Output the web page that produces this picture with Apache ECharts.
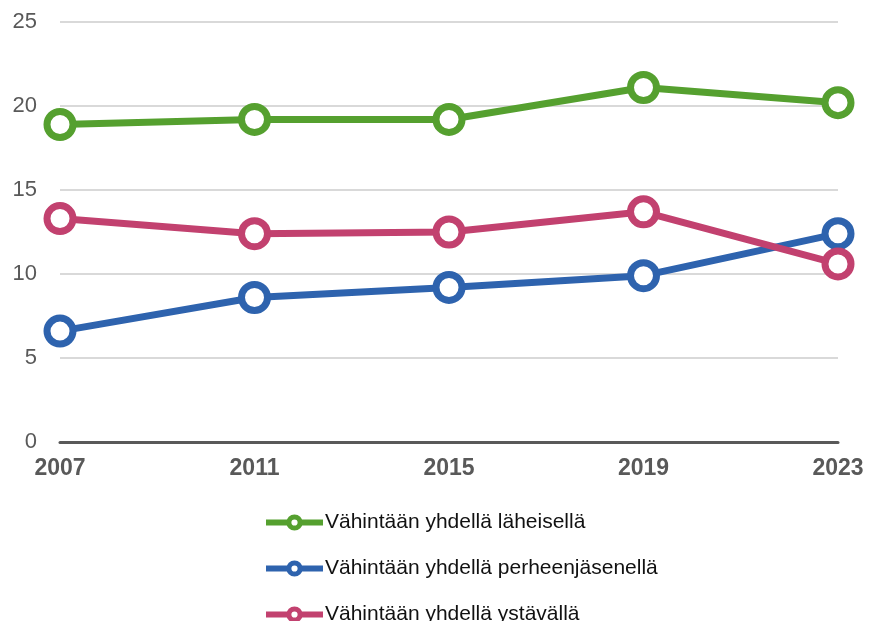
<!DOCTYPE html>
<html>
<head>
<meta charset="utf-8">
<script src="https://cdn.jsdelivr.net/npm/echarts@6/dist/echarts.min.js"></script>
<style>
  html, body { margin: 0; padding: 0; background: #fff; }
  #chart { width: 880px; height: 621px; }
</style>
</head>
<body>
<div id="chart"></div>
<script>
// vuodet
var years = ["2007", "2011", "2015", "2019", "2023"]
var seriesNames = ["Vähintään yhdellä läheisellä", "Vähintään yhdellä perheenjäsenellä", "Vähintään yhdellä ystävällä"]
var laheinen = [18.9, 19.2, 19.2, 21.1, 20.2]
var perhe = [6.6, 8.6, 9.2, 9.9, 12.4]
var ystava = [13.3, 12.4, 12.5, 13.7, 10.6]
var colors = ["#55a02f", "#2e63ae", "#c2416f"]

var myEcharts = echarts.init(document.getElementById("chart"))

function makeSeries(name, data, color) {
    return {
        name: name,
        type: "line",
        data: data,
        symbol: "circle",
        symbolSize: 26,
        lineStyle: { width: 7, color: color },
        itemStyle: { color: "#fff", borderColor: color, borderWidth: 7 },
        emphasis: { disabled: true }
    }
}

var option = {
    animation: false,
    textStyle: { fontFamily: "Liberation Sans, Arial, sans-serif" },
    grid: { left: 60, right: 42, top: 22, bottom: 179 },
    legend: {
        orient: "vertical",
        left: 263,
        top: 512,
        height: 200,
        padding: 0,
        itemGap: 25,
        itemWidth: 57,
        itemHeight: 14,
        textStyle: { fontSize: 21, color: "#111", padding: [0, 0, 0, -3] },
        data: seriesNames.map(function(n, i) {
            return {
                name: n,
                itemStyle: { color: "#fff", borderColor: colors[i], borderWidth: 5 },
                lineStyle: { color: colors[i], width: 6 }
            }
        })
    },
    xAxis: {
        type: "category",
        data: years,
        boundaryGap: false,
        axisLine: { lineStyle: { color: "#595959", width: 3 } },
        axisTick: { show: false },
        axisLabel: { color: "#595959", fontSize: 23, fontWeight: "bold", margin: 15 }
    },
    yAxis: {
        type: "value",
        min: 0,
        max: 25,
        interval: 5,
        axisLine: { show: false },
        axisTick: { show: false },
        splitLine: { lineStyle: { color: "#d9d9d9", width: 2 } },
        axisLabel: { color: "#595959", fontSize: 22, margin: 23 }
    },
    series: [
        makeSeries(seriesNames[0], laheinen, colors[0]),
        makeSeries(seriesNames[1], perhe, colors[1]),
        makeSeries(seriesNames[2], ystava, colors[2])
    ]
}
myEcharts.setOption(option)
</script>
</body>
</html>
